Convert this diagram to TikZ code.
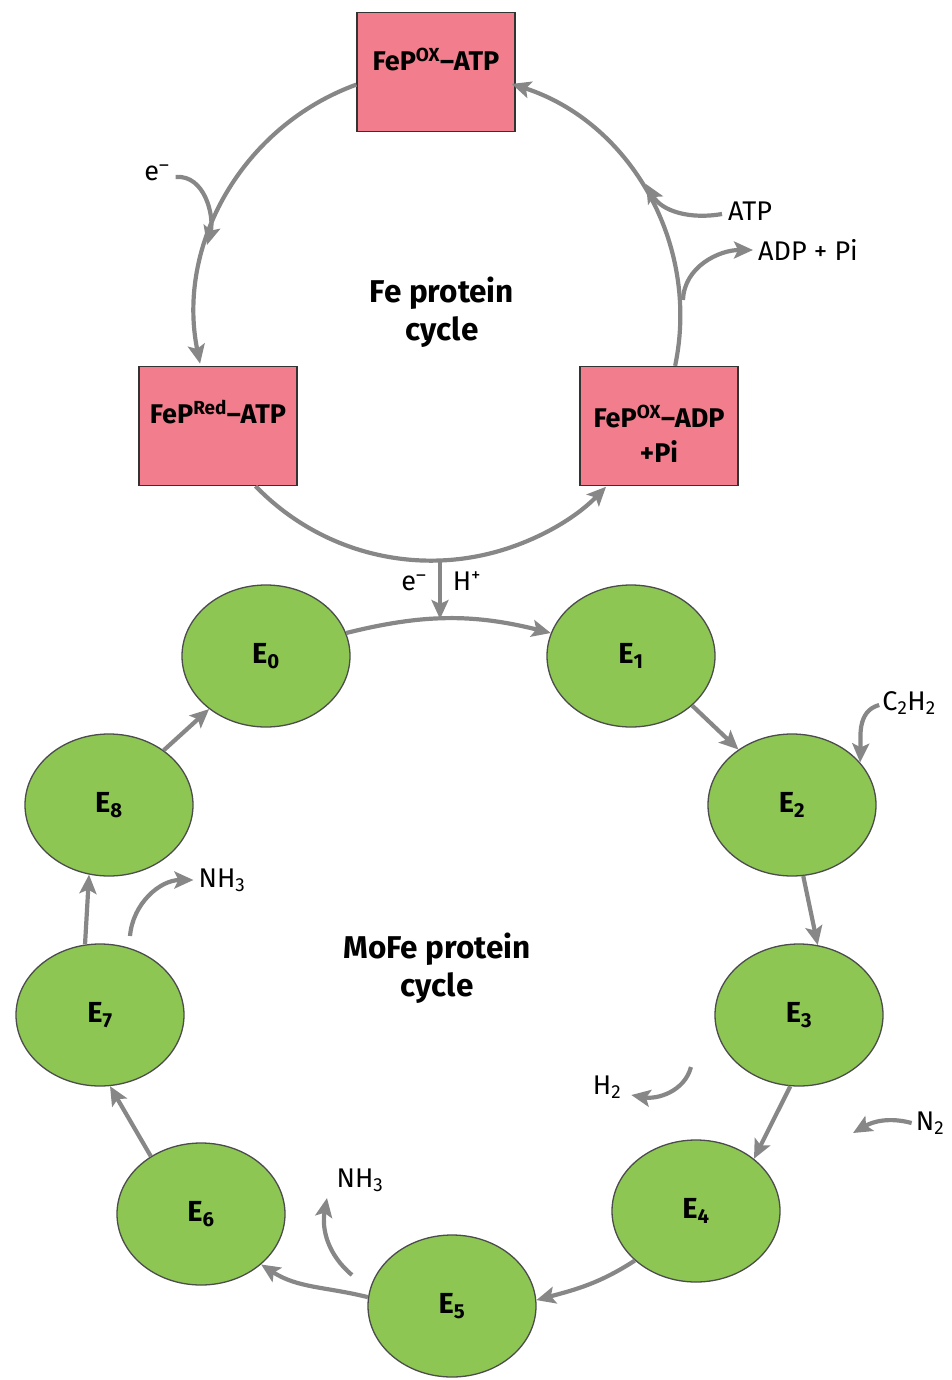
\documentclass[tikz,border=0pt]{standalone}
\usepackage{fontspec}
\setmainfont{Fira Sans}
\usetikzlibrary{arrows.meta,shapes.geometric}
\definecolor{boxpink}{RGB}{242,125,140}
\definecolor{egreen}{RGB}{141,198,83}
\definecolor{arrgray}{RGB}{135,135,135}
\begin{document}
\begin{tikzpicture}[x=1pt,y=1pt,
  febox/.style={draw=black!80, line width=1.3pt, fill=boxpink, minimum width=158pt, minimum height=119pt, inner sep=0pt},
  boxtext/.style={align=center, inner sep=0pt, font=\fontsize{27}{35}\selectfont\bfseries},
  estate/.style={ellipse, draw=black!70, line width=1.3pt, fill=egreen, minimum width=168pt, minimum height=142pt, inner sep=0pt, font=\fontsize{29}{30}\selectfont\bfseries},
  flow/.style={draw=arrgray, line width=4.2pt, -{Stealth[length=19pt,width=17pt,inset=4pt]}},
  lbl/.style={font=\fontsize{27}{28}\selectfont, inner sep=0pt},
  title/.style={font=\fontsize{31.5}{38}\selectfont\bfseries, align=center}]
\useasboundingbox (0,0) rectangle (951,-1380);

% Fe protein cycle
\node[febox] (fox) at (436,-72) {};
\node[febox] (fred) at (218,-426) {};
\node[febox] (fadp) at (659,-426) {};
\node[boxtext] (foxt) at ([yshift=12pt]fox.center) {FeP\textsuperscript{OX}–ATP};
\node[boxtext] (fredt) at ([yshift=14pt]fred.center) {FeP\textsuperscript{Red}–ATP};
\node[boxtext] (fadpt) at ([yshift=-8pt]fadp.center) {FeP\textsuperscript{OX}–ADP\\+Pi};
\node[title] (fetitle) at (442,-312) {Fe protein\\cycle};

\draw[flow] (fox.189) arc[start angle=110, end angle=191.5, radius=245];
\draw[flow] (fred.302) arc[start angle=224, end angle=315.8, radius=244];
\draw[flow] (fadp.75) arc[start angle=-11.8, end angle=72, radius=244];

\node[lbl] (elab) at (157,-173) {e\textsuperscript{–}};
\coordinate (emend) at (207,-245);
\draw[flow] ([xshift=6pt,yshift=-4pt]elab.east) to[out=5,in=75] (emend);

\node[lbl,anchor=west] (atp) at (728,-211) {ATP};
\coordinate (atpend) at (646,-184);
\draw[flow] ([xshift=-6pt,yshift=-3pt]atp.west) to[out=190,in=300] (atpend);

\node[lbl,anchor=west] (adp) at (758,-250) {ADP + Pi};
\coordinate (adpst) at (683,-300);
\draw[flow] (adpst) to[out=88,in=180] ([xshift=-5pt]adp.west);

% link
\coordinate (fbot) at (440,-560);
\coordinate (mtop) at (440,-619);
\draw[flow] (fbot) -- (mtop);
\node[lbl] (elink) at (414,-583) {e\textsuperscript{–}};
\node[lbl] (hlink) at (467,-581) {H\textsuperscript{+}};

% MoFe protein cycle
\node[estate] (e0) at (266,-656) {E\textsubscript{0}};
\node[estate] (e1) at (631,-656) {E\textsubscript{1}};
\node[estate] (e2) at (792,-805) {E\textsubscript{2}};
\node[estate] (e3) at (799,-1015) {E\textsubscript{3}};
\node[estate] (e4) at (696,-1211) {E\textsubscript{4}};
\node[estate] (e5) at (452,-1306) {E\textsubscript{5}};
\node[estate] (e6) at (201,-1214) {E\textsubscript{6}};
\node[estate] (e7) at (100,-1015) {E\textsubscript{7}};
\node[estate] (e8) at (109,-805) {E\textsubscript{8}};
\node[title] (motitle) at (437,-968) {MoFe protein\\cycle};

\draw[flow] (e0.16) to[out=14,in=166] (e1.164);
\draw[flow] (e1.-39) -- (e2.134);
\draw[flow] (e2.-81) -- (e3.75);
\draw[flow] (e3.263) -- (e4.42);
\draw[flow] (e4.219) to[out=213,in=15] (e5.4);
\draw[flow] (e5.174) to[out=166,in=327] (e6.320);
\draw[flow] (e6.131) -- (e7.278);
\draw[flow] (e7.102) -- (e8.254);
\draw[flow] (e8.45) -- (e0.223);

% side reactions
\node[lbl] (c2h2) at (909,-703) {C\textsubscript{2}H\textsubscript{2}};
\draw[flow] ([xshift=-3pt,yshift=-2pt]c2h2.west) to[out=195,in=88] (e2.32);

\node[lbl] (h2) at (607,-1087) {H\textsubscript{2}};
\coordinate (h2st) at (691,-1067);
\draw[flow] (h2st) to[out=255,in=350] ([xshift=10pt,yshift=-8pt]h2.east);

\node[lbl] (n2) at (930,-1123) {N\textsubscript{2}};
\coordinate (n2end) at (853,-1133);
\draw[flow] ([xshift=-4pt]n2.west) to[out=165,in=30] (n2end);

\node[lbl] (nh3a) at (222,-880) {NH\textsubscript{3}};
\coordinate (nh3ast) at (130,-936);
\draw[flow] (nh3ast) to[out=85,in=180] ([xshift=-5pt]nh3a.west);

\node[lbl] (nh3b) at (360,-1180) {NH\textsubscript{3}};
\coordinate (nh3bst) at (352,-1275);
\draw[flow] (nh3bst) to[out=140,in=260] (327,-1198);
\end{tikzpicture}
\end{document}
